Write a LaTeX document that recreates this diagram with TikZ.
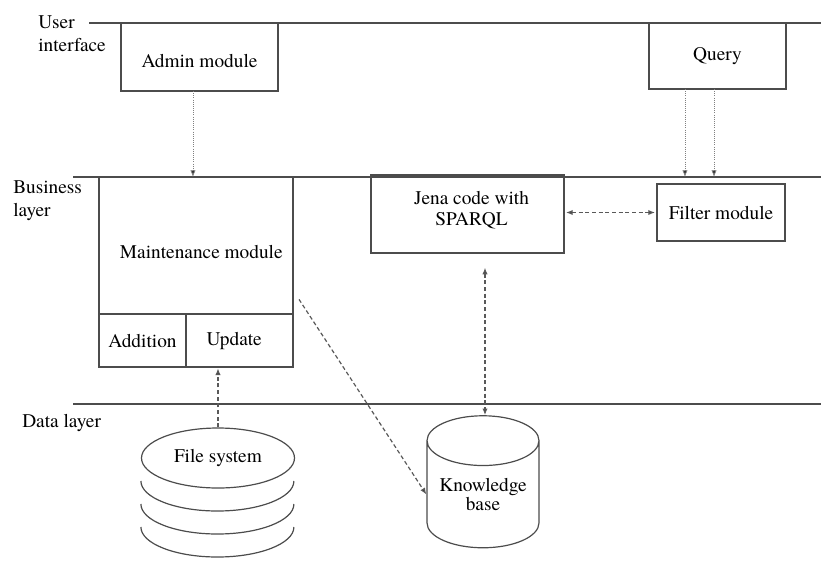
\documentclass[tikz,border=0pt]{standalone}
\usepackage{fontspec}
\setmainfont{texgyretermes-regular.otf}
\usetikzlibrary{arrows.meta,positioning,shapes.geometric,calc}

\begin{document}
\begin{tikzpicture}[x=0.75pt, y=-0.75pt, font=\rmfamily\fontsize{14.5}{17}\selectfont, >=Latex,
  every node/.style={align=center}]

% styles
\tikzset{
  box/.style={rectangle, draw=black!70, line width=0.9pt, inner sep=2pt, outer sep=0pt},
  layer/.style={draw=black!70, line width=1pt},
  lbl/.style={anchor=west, align=left, inner sep=0pt},
  dotline/.style={-{Latex[length=5pt,width=4pt,fill=black!85]}, densely dotted, draw=black!50, line width=0.6pt},
  dashline/.style={-{Latex[length=5pt,width=4pt,fill=black!85]}, dash pattern=on 3pt off 2pt, draw=black!65, line width=0.9pt},
  dashboth/.style={{Latex[length=5pt,width=4pt,fill=black!85]}-{Latex[length=5pt,width=4pt,fill=black!85]}, dash pattern=on 3pt off 2pt, draw=black!65, line width=0.9pt}
}

\useasboundingbox (0,0) rectangle (821,561);

% layer lines
\coordinate (uiL) at (89,23);   \coordinate (uiR) at (821,23);
\coordinate (buL) at (73,177);  \coordinate (buR) at (821,177);
\coordinate (daL) at (73,404);  \coordinate (daR) at (821,404);
\draw[layer] (uiL) -- (uiR);
\draw[layer] (buL) -- (buR);
\draw[layer] (daL) -- (daR);

\node[lbl] (uilbl) at (38,34) {User\\interface};
\node[lbl] (bulbl) at (13,200.5) {Business\\layer};
\node[lbl] (dalbl) at (22,423) {Data layer};

% user interface
\node[box, fill=white, minimum width=117.75pt, minimum height=51pt] (admin) at (199.5,57) {\rule{0pt}{16pt}Admin module};
\node[box, fill=white, minimum width=102.75pt, minimum height=49.5pt] (query) at (717.5,56) {Query};

% business layer
\node[box, fill=white, minimum width=145.5pt, minimum height=102.75pt] (maint) at (196,245.5) {\rule{0pt}{20pt}\hspace*{8pt}Maintenance module};
\node[box, minimum width=65.25pt, minimum height=39.75pt, anchor=north west] (add) at (maint.south west) {Addition};
\node[box, minimum width=80.25pt, minimum height=39.75pt, anchor=west] (upd) at (add.east) {Update\hspace*{8pt}};
\node[box, minimum width=144.75pt, minimum height=58.5pt] (jena) at (467.5,214) {\hspace*{6pt}Jena code with\\[-1pt]\hspace*{6pt}SPARQL\rule[-8pt]{0pt}{8pt}};
\node[box, minimum width=96pt, minimum height=42.75pt] (filter) at (721,212.5) {Filter module};

% data layer
\node[draw=black!70, line width=0.9pt, ellipse, minimum width=114.75pt, minimum height=45pt, inner sep=0pt, fill=white] (fs) at (218,458) {File system};
\foreach \k in {1,2,3}
  \draw[draw=black!70, line width=0.9pt] ([yshift=-\k*17.25pt]fs.west) arc[start angle=180, end angle=360, x radius=57.375pt, y radius=22.5pt];
\node[cylinder, shape border rotate=90, aspect=0.57, draw=black!70, line width=0.9pt, minimum width=84pt, minimum height=99pt, inner sep=0pt] (kb) at (483,494.5) {Knowledge\\[-3pt]base};

% connectors
\draw[dotline] ([xshift=-4.9pt]admin.south) -- ([xshift=-4.9pt]admin.south |- buL);
\draw[dotline] ([xshift=-24.4pt]query.south) -- ([xshift=-24.4pt]query.south |- buL);
\draw[dotline] ([xshift=-2.6pt]query.south) -- ([xshift=-2.6pt]query.south |- buL);
\draw[dashboth, shorten <=1.5pt, shorten >=1.5pt] (jena.east |- filter.west) -- (filter.west);
\draw[dashboth, shorten <=11pt] ([xshift=1.5pt]kb.north |- jena.south) -- ([xshift=1.5pt]kb.north);
\draw[dashline] ([xshift=4.5pt, yshift=11pt]maint.south east) -- (kb.west);
\draw[dashline, shorten >=1pt] (fs.north) -- (fs.north |- upd.south);

\end{tikzpicture}
\end{document}
